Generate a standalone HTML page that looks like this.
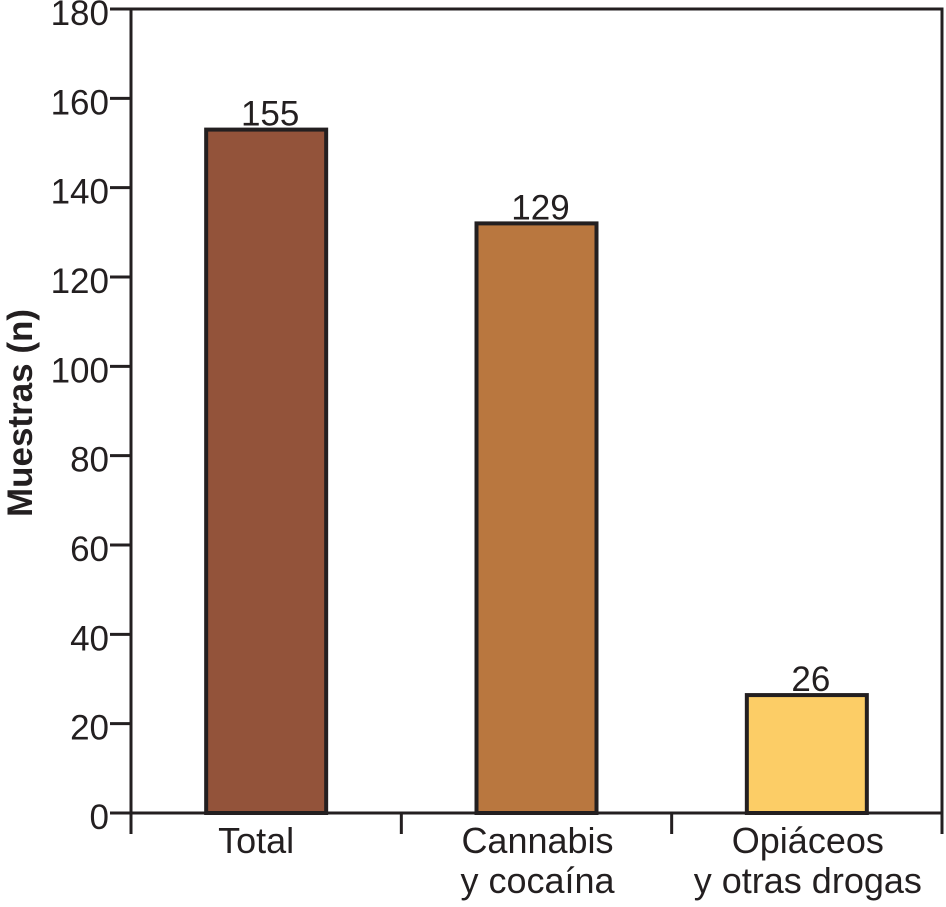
<!DOCTYPE html>
<html><head><meta charset="utf-8"><style>
html,body{margin:0;padding:0;background:#fff;}
svg{display:block;font-family:"Liberation Sans","DejaVu Sans",sans-serif;}
</style></head><body>
<svg id="chart" width="946" height="907" viewBox="0 0 946 907">
<g id="ax"></g>
<g id="bars"></g>
<text transform="translate(32,413) rotate(-90)" text-anchor="middle" font-size="35" font-weight="bold" fill="#231f20">Muestras (n)</text>
</svg>
<script>
const categories = [["Total"], ["Cannabis", "y cocaína"], ["Opiáceos", "y otras drogas"]];
const barValues = [153, 132, 26.4];
const valueLabels = ["155", "129", "26"];
const barColors = ["#93533a", "#b9773f", "#fccd66"];
const yTicks = [0, 20, 40, 60, 80, 100, 120, 140, 160, 180];

const NS = "http://www.w3.org/2000/svg";
const X0 = 131, X1 = 942, Y0 = 813, Y1 = 9, YMAX = 180;
const y = v => Y0 - (v / YMAX) * (Y0 - Y1);
const band = (X1 - X0) / categories.length;
const xc = i => X0 + band * (i + 0.5);
const BW = 120;
const ink = "#231f20";
function mk(tag, attrs, parent) {
  const e = document.createElementNS(NS, tag);
  for (const k in attrs) e.setAttribute(k, attrs[k]);
  parent.appendChild(e);
  return e;
}
const ax = document.getElementById("ax");
const bars = document.getElementById("bars");

yTicks.forEach(t => {
  const l = mk("line", {x1: 110, x2: X0, y1: y(t), y2: y(t), stroke: ink, "stroke-width": 3}, ax);
  
  
  const tx = mk("text", {x: 109, y: y(t) + 16, "text-anchor": "end", "font-size": 35, fill: ink}, ax);
  tx.textContent = t;
  
  
});

categories.forEach((c, i) => {
  const r = mk("rect", {x: xc(i) - BW / 2, y: y(barValues[i]), width: BW, height: Y0 - y(barValues[i]), fill: barColors[i], stroke: ink, "stroke-width": 4}, bars);
  
  
  const v = mk("text", {x: xc(i) + 4, y: y(barValues[i]) - 4, "text-anchor": "middle", "font-size": 35, fill: ink}, bars);
  v.textContent = valueLabels[i];
  
  
  c.forEach((line, j) => {
    const t = mk("text", {x: xc(i) + (i === 0 ? -10 : 1), y: 853 + j * 40, "text-anchor": "middle", "font-size": 36, fill: ink}, ax);
    t.textContent = line;
    
    
  });
});

for (let i = 0; i <= categories.length; i++) {
  const xx = X0 + band * i;
  const l = mk("line", {x1: xx, x2: xx, y1: Y0, y2: 834, stroke: ink, "stroke-width": 3}, ax);
  
  
}
const frame = mk("rect", {x: X0, y: Y1, width: X1 - X0, height: Y0 - Y1, fill: "none", stroke: ink, "stroke-width": 3}, ax);


document.getElementById("chart").insertBefore(bars, null);
</script>
</body></html>
